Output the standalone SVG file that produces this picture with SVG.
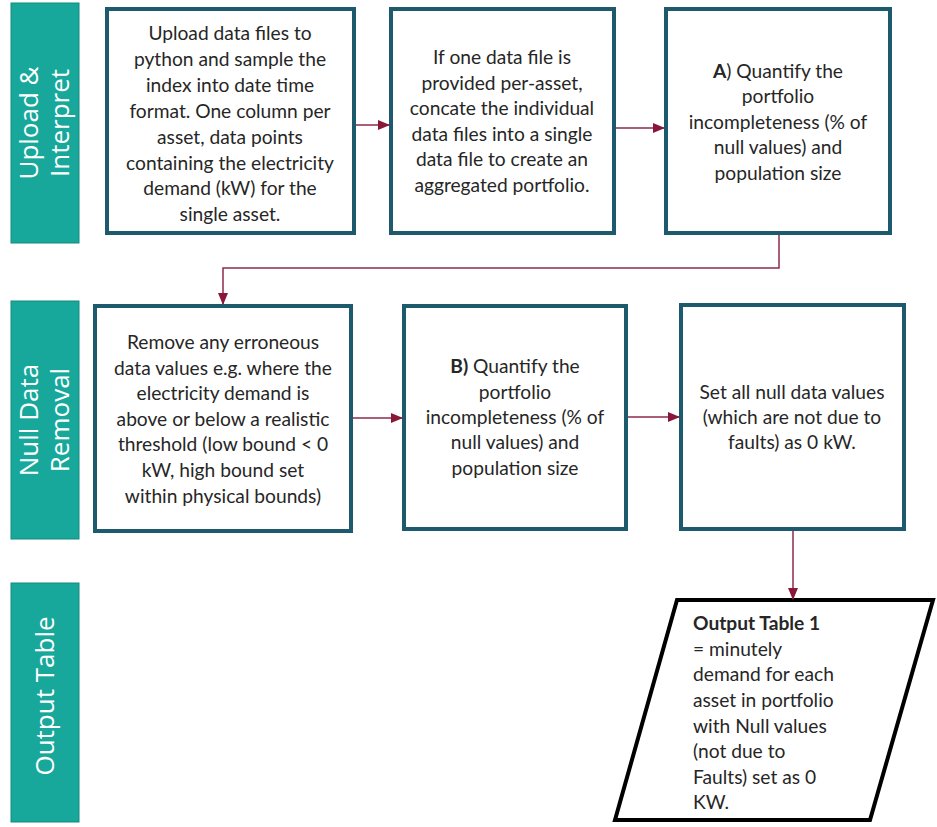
<svg xmlns="http://www.w3.org/2000/svg" width="937" height="827" viewBox="0 0 937 827">
<defs>
<style>
.lane{fill:#17a89b;stroke:#16897f;stroke-width:1}
.lt{font-family:"Open Sans","Liberation Sans",sans-serif;font-size:26px;fill:#ffffff;text-anchor:middle}
.box{fill:#ffffff;stroke:#1e5a6d;stroke-width:4}
.bt{font-family:Lato,"Liberation Sans",sans-serif;font-size:19.2px;fill:#262626;text-anchor:middle}
.ot{font-family:Lato,"Liberation Sans",sans-serif;font-size:19.2px;fill:#262626}
.b{font-weight:bold}
.con{fill:none;stroke:#8e2a4c;stroke-width:1.5}
</style>
<marker id="ah" markerWidth="12" markerHeight="10" refX="11" refY="5" orient="auto" markerUnits="userSpaceOnUse">
<path d="M0,0 L12,5 L0,10 Z" fill="#8a1638"/>
</marker>
</defs>
<rect width="937" height="827" fill="#ffffff"/>

<g id="lane-upload">
<rect class="lane" x="11" y="3" width="68" height="240"/>
<text class="lt" transform="translate(38,123) rotate(-90)">Upload &amp;</text>
<text class="lt" transform="translate(69,123) rotate(-90)">Interpret</text>
</g>
<g id="lane-null">
<rect class="lane" x="11" y="301" width="68" height="238"/>
<text class="lt" transform="translate(38,420) rotate(-90)">Null Data</text>
<text class="lt" transform="translate(69,420) rotate(-90)">Removal</text>
</g>
<g id="lane-output">
<rect class="lane" x="11" y="583" width="68" height="239"/>
<text class="lt" transform="translate(54,696) rotate(-90)">Output Table</text>
</g>

<g id="n1">
<rect class="box" x="107" y="9" width="247" height="224"/>
<text class="bt" x="230" y="40">Upload data files to</text>
<text class="bt" x="230" y="66">python and sample the</text>
<text class="bt" x="230" y="92">index into date time</text>
<text class="bt" x="230" y="118">format. One column per</text>
<text class="bt" x="230" y="144">asset, data points</text>
<text class="bt" x="230" y="170">containing the electricity</text>
<text class="bt" x="230" y="195">demand (kW) for the</text>
<text class="bt" x="230" y="221">single asset.</text>
</g>
<g id="n2">
<rect class="box" x="391" y="9" width="223" height="224"/>
<text class="bt" x="502" y="64">If one data file is</text>
<text class="bt" x="502" y="90">provided per-asset,</text>
<text class="bt" x="502" y="115">concate the individual</text>
<text class="bt" x="502" y="141">data files into a single</text>
<text class="bt" x="502" y="166">data file to create an</text>
<text class="bt" x="502" y="192">aggregated portfolio.</text>
</g>
<g id="n3">
<rect class="box" x="666" y="9" width="224" height="224"/>
<text class="bt" x="778" y="78"><tspan class="b">A</tspan>) Quantify the</text>
<text class="bt" x="778" y="103">portfolio</text>
<text class="bt" x="778" y="129">incompleteness (% of</text>
<text class="bt" x="778" y="154">null values) and</text>
<text class="bt" x="778" y="180">population size</text>
</g>
<g id="n4">
<rect class="box" x="95" y="306" width="256" height="225"/>
<text class="bt" x="223" y="349">Remove any erroneous</text>
<text class="bt" x="223" y="375">data values e.g. where the</text>
<text class="bt" x="223" y="400">electricity demand is</text>
<text class="bt" x="223" y="426">above or below a realistic</text>
<text class="bt" x="223" y="451">threshold (low bound &lt; 0</text>
<text class="bt" x="223" y="477">kW, high bound set</text>
<text class="bt" x="223" y="503">within physical bounds)</text>
</g>
<g id="n5">
<rect class="box" x="404" y="306" width="222" height="223"/>
<text class="bt" x="515" y="373"><tspan class="b">B)</tspan> Quantify the</text>
<text class="bt" x="515" y="399">portfolio</text>
<text class="bt" x="515" y="424">incompleteness (% of</text>
<text class="bt" x="515" y="449">null values) and</text>
<text class="bt" x="515" y="475">population size</text>
</g>
<g id="n6">
<rect class="box" x="681" y="305" width="223" height="224"/>
<text class="bt" x="792" y="399">Set all null data values</text>
<text class="bt" x="792" y="424">(which are not due to</text>
<text class="bt" x="792" y="449">faults) as 0 kW.</text>
</g>
<g id="n7">
<polygon points="677,600 933,600 870,820 615,820" fill="#ffffff" stroke="#000000" stroke-width="4"/>
<text class="ot b" x="693" y="630">Output Table 1</text>
<text class="ot" x="693" y="656">= minutely</text>
<text class="ot" x="693" y="681">demand for each</text>
<text class="ot" x="693" y="707">asset in portfolio</text>
<text class="ot" x="693" y="733">with Null values</text>
<text class="ot" x="693" y="758">(not due to</text>
<text class="ot" x="693" y="784">Faults) set as 0</text>
<text class="ot" x="693" y="809">KW.</text>
</g>

<g id="connectors">
<line class="con" x1="356" y1="125" x2="389" y2="125" marker-end="url(#ah)"/>
<line class="con" x1="616" y1="128" x2="664" y2="128" marker-end="url(#ah)"/>
<polyline class="con" points="779,235 779,268 223,268 223,304" marker-end="url(#ah)"/>
<line class="con" x1="353" y1="418" x2="402" y2="418" marker-end="url(#ah)"/>
<line class="con" x1="628" y1="417" x2="679" y2="417" marker-end="url(#ah)"/>
<line class="con" x1="793" y1="531" x2="793" y2="599" marker-end="url(#ah)"/>
</g>
</svg>
